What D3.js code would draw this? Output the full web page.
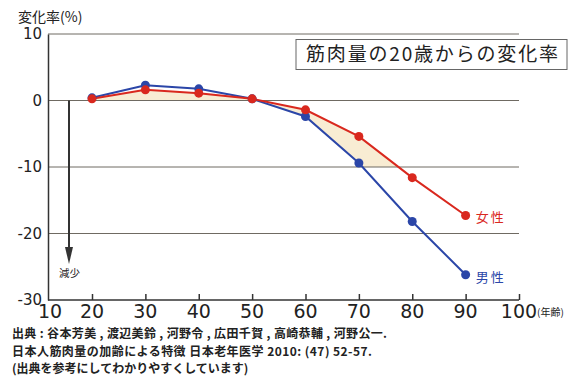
<!DOCTYPE html>
<html>
<head>
<meta charset="utf-8">
<script src="https://cdn.jsdelivr.net/npm/d3@7"></script>
<style>
  body { margin: 0; background: #fff; }
  svg { display: block; font-family: "Noto Sans CJK JP", "Noto Sans", sans-serif; }
</style>
</head>
<body>
<div id="vis"></div>
<script>
// data
const ages = [20, 30, 40, 50, 60, 70, 80, 90];
const female = [0.25, 1.6, 1.1, 0.25, -1.4, -5.4, -11.6, -17.3];
const male = [0.4, 2.3, 1.75, 0.25, -2.4, -9.4, -18.2, -26.2];
const xTicks = [10, 20, 30, 40, 50, 60, 70, 80, 90, 100];
const yTicks = [10, 0, -10, -20, -30];
const footnote = [
  "出典 : 谷本芳美 , 渡辺美鈴 , 河野令 , 広田千賀 , 高崎恭輔 , 河野公一.",
  "日本人筋肉量の加齢による特徴  日本老年医学 2010: (47) 52-57.",
  "(出典を参考にしてわかりやすくしています)"
];

const W = 587, H = 387;
const svg = d3.select("#vis").append("svg")
  .attr("width", W).attr("height", H)
  .attr("viewBox", [0, 0, W, H]);

// the first interval (10-20) is drawn shorter than the others
const x = d3.scaleLinear().domain([10, 20, 100]).range([48, 92, 519]);
const y = d3.scaleLinear().domain([-30, 10]).range([300, 34]);

const red = "#d9281e", blue = "#2b46a8", fillCol = "#f8ecd3";

// shaded band, clipped above -10
svg.append("clipPath").attr("id", "band")
  .append("rect").attr("x", x(20)).attr("y", y(10))
  .attr("width", x(80) - x(20)).attr("height", y(-10) - y(10));

const rows = ages.map((a, i) => ({ age: a, f: female[i], m: male[i] }));
svg.append("path")
  .datum(rows.filter(d => d.age <= 80))
  .attr("clip-path", "url(#band)")
  .attr("fill", fillCol)
  .attr("d", d3.area()
    .x(d => x(d.age))
    .y0(d => y(Math.min(0, d.m)))
    .y1(d => y(d.f)));

// gridlines
svg.append("g")
  .selectAll("line")
  .data(yTicks.filter(d => d > -30))
  .join("line")
  .attr("x1", x(10)).attr("x2", x(100))
  .attr("y1", d => y(d)).attr("y2", d => y(d))
  .attr("stroke", "#6f6a62").attr("stroke-width", 1);

// y axis
svg.append("g")
  .attr("transform", `translate(${x(10)},0)`)
  .call(d3.axisLeft(y).tickValues(yTicks).tickSize(0).tickPadding(6).tickFormat(d => d))
  .call(g => g.select(".domain").attr("stroke", "#333").attr("stroke-width", 1.5))
  .call(g => g.selectAll(".tick text")
    .attr("font-size", 15).attr("fill", "#222").attr("font-family", "DejaVu Sans"));

// x axis
svg.append("g")
  .attr("transform", `translate(0,${y(-30)})`)
  .call(d3.axisTop(x).tickValues(xTicks.slice(1)).tickSize(6).tickFormat(""))
  .call(g => g.select(".domain").attr("d", `M${x(10)},0H${x(100)}`).attr("stroke", "#333").attr("stroke-width", 1.5))
  .call(g => g.selectAll(".tick line").attr("stroke", "#333").attr("stroke-width", 1.5));

svg.append("g")
  .selectAll("text")
  .data(xTicks)
  .join("text")
  .attr("x", d => x(d) + (d === 10 ? 2 : 0))
  .attr("y", 318)
  .attr("text-anchor", "middle")
  .attr("font-size", 19)
  .attr("font-family", "DejaVu Sans")
  .attr("fill", "#222")
  .text(d => d);

svg.append("text")
  .attr("x", x(100) + 18).attr("y", 316)
  .attr("font-size", 10).attr("fill", "#222")
  .text("(年齢)");

// y label
svg.append("text")
  .attr("x", 18).attr("y", 22)
  .attr("font-size", 14).attr("fill", "#222")
  .text("変化率(%)");

// decrease arrow
svg.append("line")
  .attr("x1", 69).attr("x2", 69)
  .attr("y1", y(0)).attr("y2", 250)
  .attr("stroke", "#333").attr("stroke-width", 2);
svg.append("path")
  .attr("d", "M65,247L73,247L69,264Z")
  .attr("fill", "#333");
svg.append("text")
  .attr("x", 59).attr("y", 277)
  .attr("font-size", 10.5).attr("fill", "#222")
  .text("減少");

// lines
const line = key => d3.line().x(d => x(d.age)).y(d => y(d[key]));
svg.append("path").datum(rows)
  .attr("fill", "none").attr("stroke", blue).attr("stroke-width", 2)
  .attr("d", line("m"));
svg.append("path").datum(rows)
  .attr("fill", "none").attr("stroke", red).attr("stroke-width", 2)
  .attr("d", line("f"));

svg.append("g").selectAll("circle").data(rows).join("circle")
  .attr("cx", d => x(d.age)).attr("cy", d => y(d.m)).attr("r", 4.5)
  .attr("fill", blue);
svg.append("g").selectAll("circle").data(rows).join("circle")
  .attr("cx", d => x(d.age)).attr("cy", d => y(d.f)).attr("r", 4.5)
  .attr("fill", red);

// series labels
const last = rows[rows.length - 1];
svg.append("text")
  .attr("x", x(last.age) + 10).attr("y", y(last.f) + 6)
  .attr("font-size", 13).attr("fill", red)
  .attr("letter-spacing", 2)
  .text("女性");
svg.append("text")
  .attr("x", x(last.age) + 10).attr("y", y(last.m) + 7)
  .attr("font-size", 13).attr("fill", blue)
  .attr("letter-spacing", 2)
  .text("男性");

// title box
svg.append("rect")
  .attr("x", 296).attr("y", 39.5).attr("width", 271).attr("height", 30)
  .attr("fill", "#fff").attr("stroke", "#666").attr("stroke-width", 1);
svg.append("text")
  .attr("x", 306).attr("y", 61)
  .attr("font-size", 19).attr("fill", "#222")
  .attr("textLength", 252).attr("lengthAdjust", "spacing")
  .text("筋肉量の20歳からの変化率");

// footnote
const noteWidths = [375, 360, null];
svg.append("g")
  .selectAll("text")
  .data(footnote)
  .join("text")
  .attr("x", 12)
  .attr("y", (d, i) => 338 + i * 17.5)
  .attr("font-size", 12)
  .attr("font-weight", "bold")
  .attr("fill", "#222")
  .each(function (d, i) {
    if (noteWidths[i]) d3.select(this).attr("textLength", noteWidths[i]).attr("lengthAdjust", "spacing");
  })
  .text(d => d);
</script>
</body>
</html>
